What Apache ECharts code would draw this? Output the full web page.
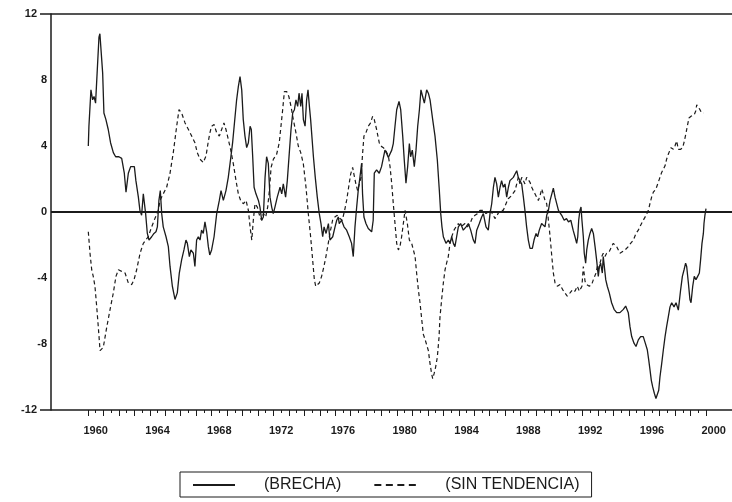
<!DOCTYPE html>
<html><head><meta charset="utf-8">
<script src="https://cdn.jsdelivr.net/npm/echarts@6.0.0/dist/echarts.min.js"></script>
<style>html,body{margin:0;padding:0;background:#fff}#c{width:732px;height:502px}</style>
</head><body><div id="c"></div>
<script>
// ---- data ----
const seriesNames = ['(BRECHA)', '(SIN TENDENCIA)'];
const yTickValues = [-12, -8, -4, 0, 4, 8, 12];
const xLabelYears = [1960, 1964, 1968, 1972, 1976, 1980, 1984, 1988, 1992, 1996, 2000];

const brechaYears = [
1960.02,1960.06,1960.19,1960.30,1960.39,1960.49,1960.60,1960.71,1960.77,1960.86,1960.95,
1961.03,1961.16,1961.31,1961.46,1961.64,1961.79,1962.00,1962.18,1962.35,1962.46,1962.61,1962.76,
1963.00,1963.10,1963.26,1963.36,1963.47,1963.58,1963.64,1963.73,1963.84,1963.95,
1964.12,1964.27,1964.40,1964.49,1964.59,1964.68,1964.77,1964.87,
1965.05,1965.20,1965.31,1965.46,1965.63,1965.78,1965.91,
1966.06,1966.21,1966.34,1966.43,1966.56,1966.66,1966.82,1966.92,
1967.03,1967.14,1967.25,1967.35,1967.46,1967.57,1967.68,1967.79,1967.88,
1968.00,1968.16,1968.33,1968.50,1968.61,1968.76,1968.93,
1969.08,1969.23,1969.36,1969.52,1969.62,1969.73,1969.84,1969.95,
1970.05,1970.16,1970.27,1970.38,1970.49,1970.57,1970.66,1970.75,1970.87,
1971.03,1971.13,1971.24,1971.35,1971.46,1971.56,1971.67,1971.78,1971.89,1971.99,
1972.10,1972.25,1972.43,1972.54,1972.64,1972.79,1972.90,
1973.03,1973.14,1973.25,1973.36,1973.46,1973.57,1973.66,1973.77,1973.85,1973.94,
1974.05,1974.15,1974.24,1974.33,1974.41,1974.59,1974.71,1974.84,1974.97,
1975.08,1975.19,1975.28,1975.41,1975.56,1975.66,1975.84,1975.99,
1976.10,1976.20,1976.26,1976.41,1976.57,1976.74,1976.91,
1977.06,1977.17,1977.28,1977.39,1977.49,1977.60,1977.71,1977.77,1977.86,1977.99,
1978.14,1978.36,1978.46,1978.53,1978.68,1978.85,
1979.00,1979.22,1979.33,1979.44,1979.55,1979.66,1979.76,1979.87,1979.98,
1980.13,1980.24,1980.37,1980.47,1980.58,1980.69,1980.80,1980.88,1980.99,
1981.12,1981.23,1981.34,1981.45,1981.55,1981.66,1981.77,1981.92,
1982.03,1982.14,1982.31,1982.46,1982.61,1982.74,1982.83,1982.91,
1983.00,1983.17,1983.32,1983.43,1983.54,1983.65,1983.75,1983.86,1983.97,
1984.12,1984.29,1984.47,1984.62,1984.77,1984.94,
1985.05,1985.16,1985.33,1985.48,1985.59,1985.76,1985.91,
1986.02,1986.13,1986.24,1986.34,1986.45,1986.56,1986.67,1986.77,1986.88,1986.99,
1987.10,1987.21,1987.31,1987.53,1987.64,1987.75,1987.85,1987.96,
1988.07,1988.18,1988.28,1988.39,1988.50,1988.61,1988.76,1988.87,
1989.00,1989.10,1989.21,1989.36,1989.47,1989.58,1989.69,1989.80,1989.91,
1990.12,1990.23,1990.45,1990.66,1990.82,1990.97,
1991.10,1991.25,1991.40,1991.52,1991.63,1991.70,1991.76,1991.84,1991.91,1991.97,
1992.06,1992.12,1992.21,1992.28,1992.38,1992.49,1992.60,1992.71,1992.82,1992.92,
1993.03,1993.10,1993.18,1993.29,1993.35,1993.42,1993.51,1993.61,1993.74,1993.89,
1994.05,1994.22,1994.43,1994.65,1994.80,1994.97,
1995.08,1995.19,1995.34,1995.47,1995.62,1995.77,1995.94,
1996.07,1996.20,1996.29,1996.38,1996.46,1996.55,1996.66,1996.76,1996.85,1996.94,
1997.02,1997.13,1997.24,1997.35,1997.45,1997.56,1997.67,1997.78,1997.93,
1998.06,1998.21,1998.36,1998.47,1998.58,1998.68,1998.75,1998.86,1998.96,
1999.03,1999.14,1999.24,1999.35,1999.46,1999.57,1999.65,1999.74,1999.83,1999.87,1999.93,2000.00
];
const brechaValues = [
4.0,5.2,7.4,6.8,7.0,6.6,8.6,10.6,10.8,9.6,8.4,
6.0,5.6,5.0,4.2,3.6,3.35,3.35,3.25,2.35,1.2,2.35,2.75,
2.75,1.9,0.9,0.1,-0.2,1.1,1.2,-0.1,-1.3,-1.7,
-1.5,-1.3,-1.2,-0.9,0.7,1.3,-0.1,-0.9,
-1.5,-2.1,-3.3,-4.5,-5.3,-4.9,-3.7,
-2.9,-2.3,-1.7,-1.9,-2.7,-2.3,-2.5,-3.3,
-1.7,-1.5,-1.7,-1.1,-1.3,-0.6,-1.2,-2.1,-2.6,
-2.3,-1.5,-0.1,0.7,1.3,0.7,1.3,
2.1,3.2,4.2,5.8,6.8,7.6,8.2,7.4,
5.6,4.6,3.9,4.2,5.2,5.0,3.35,1.5,1.1,
0.7,0.3,-0.5,-0.3,2.1,3.35,2.95,0.9,0.3,-0.1,
0.3,0.9,1.5,1.1,1.7,0.9,1.9,
3.6,5.0,6.0,6.2,6.8,6.4,7.2,6.4,7.2,5.6,
5.2,6.8,7.4,6.4,5.6,3.35,2.1,0.9,-0.1,
-0.7,-1.5,-0.9,-1.3,-0.7,-1.7,-1.5,-0.9,
-0.5,-0.3,-0.7,-0.5,-0.9,-1.1,-1.5,
-1.9,-2.7,-0.9,0.3,1.3,2.1,2.95,1.1,-0.3,-0.7,
-1.0,-1.2,-0.5,2.35,2.55,2.35,
2.75,3.75,3.55,3.3,3.35,3.75,4.15,5.2,6.2,
6.7,6.2,4.6,3.15,1.75,2.75,4.15,3.35,3.75,
2.75,3.75,5.2,6.2,7.4,7.0,6.6,7.4,
7.2,6.8,5.6,4.6,3.15,1.3,-0.1,-0.9,
-1.5,-1.9,-1.7,-1.9,-1.5,-1.9,-2.1,-1.5,-0.9,
-0.7,-1.1,-0.9,-0.7,-1.1,-1.7,
-1.9,-1.1,-0.7,-0.3,-0.1,-0.9,-1.1,
-0.1,0.5,1.5,2.1,1.7,0.9,1.5,1.9,1.5,1.7,
0.9,1.5,1.9,2.1,2.3,2.5,2.1,1.9,
1.7,0.9,0.1,-0.9,-1.7,-2.2,-2.2,-1.7,
-1.3,-1.5,-1.1,-0.7,-0.8,-0.9,-0.2,0.1,0.7,
1.45,0.9,0.1,-0.2,-0.5,-0.4,
-0.6,-0.5,-1.1,-1.5,-1.9,-1.5,-0.5,0.1,0.3,-0.5,
-1.5,-2.5,-3.1,-2.3,-1.7,-1.3,-1.0,-1.3,-2.1,-2.9,
-3.9,-3.3,-3.1,-3.7,-2.7,-3.3,-4.1,-4.5,-4.9,-5.5,
-5.9,-6.1,-6.1,-5.9,-5.7,-6.1,
-6.95,-7.55,-7.95,-8.15,-7.75,-7.55,-7.55,
-7.95,-8.35,-8.95,-9.6,-10.2,-10.6,-11.0,-11.3,-11.4,-10.8,
-10.0,-9.2,-8.35,-7.55,-6.95,-6.35,-5.75,-5.5,-5.75,
-5.5,-5.95,-4.7,-3.9,-3.5,-3.1,-3.3,-4.3,-5.3,
-5.5,-4.5,-3.9,-4.1,-3.9,-3.7,-2.9,-1.9,-1.3,-0.7,-0.2,0.2
];

const sinTendYears = [
1960.02,1960.13,1960.24,1960.34,1960.45,1960.56,1960.67,1960.78,1960.99,
1961.21,1961.43,1961.64,1961.81,1961.97,1962.18,1962.40,1962.61,1962.83,1962.98,
1963.15,1963.37,1963.58,1963.90,1964.12,1964.33,1964.55,1964.66,1964.87,
1965.09,1965.30,1965.52,1965.74,1965.89,1966.06,1966.28,1966.50,1966.71,1966.92,
1967.07,1967.25,1967.46,1967.64,1967.79,1967.89,1968.00,1968.16,1968.33,1968.50,1968.65,1968.80,1968.93,
1969.08,1969.23,1969.41,1969.58,1969.73,1969.88,1970.05,1970.23,1970.38,1970.49,1970.60,1970.70,1970.81,1970.96,
1971.13,1971.24,1971.35,1971.50,1971.63,1971.74,1971.85,1972.00,1972.21,1972.38,1972.49,1972.60,1972.71,1972.86,
1973.00,1973.14,1973.29,1973.46,1973.61,1973.77,1973.94,1974.11,1974.26,1974.41,1974.54,1974.65,1974.74,1974.84,1974.97,
1975.12,1975.27,1975.40,1975.55,1975.70,1975.83,1975.98,1976.13,1976.31,1976.46,1976.61,1976.74,1976.87,
1977.00,1977.13,1977.21,1977.34,1977.45,1977.56,1977.67,1977.77,1977.86,1977.99,
1978.14,1978.29,1978.42,1978.53,1978.68,1978.85,1978.95,1979.12,1979.29,1979.44,1979.55,1979.66,1979.76,1979.87,1979.98,
1980.09,1980.19,1980.30,1980.41,1980.52,1980.58,1980.67,1980.80,1980.95,
1981.06,1981.17,1981.27,1981.38,1981.49,1981.60,1981.70,1981.81,1981.92,
1982.03,1982.14,1982.24,1982.31,1982.40,1982.50,1982.61,1982.72,1982.78,1982.89,
1983.00,1983.11,1983.21,1983.32,1983.43,1983.54,1983.69,1983.82,1983.97,
1984.12,1984.26,1984.40,1984.55,1984.73,1984.90,1985.05,1985.20,1985.37,1985.59,1985.76,
1986.02,1986.18,1986.34,1986.45,1986.67,1986.88,1987.10,1987.20,1987.42,1987.53,1987.64,1987.75,1987.85,1987.96,
1988.07,1988.18,1988.28,1988.39,1988.61,1988.72,1988.82,1988.93,
1989.04,1989.15,1989.26,1989.37,1989.47,1989.58,1989.69,1989.80,1989.91,
1990.02,1990.12,1990.23,1990.38,1990.55,1990.72,1990.87,1991.02,1991.20,1991.37,1991.52,1991.67,1991.80,1991.89,1991.97,
1992.06,1992.17,1992.28,1992.45,1992.60,1992.71,1992.88,1992.97,1993.03,1993.14,1993.25,1993.35,1993.46,1993.57,1993.74,1993.89,
1994.00,1994.22,1994.43,1994.76,1994.97,1995.12,1995.30,1995.47,1995.62,1995.77,1995.94,
1996.12,1996.27,1996.37,1996.48,1996.59,1996.76,1996.91,1997.02,1997.13,1997.24,1997.35,1997.45,1997.56,1997.73,1997.89,1997.99,
1998.10,1998.21,1998.36,1998.49,1998.60,1998.71,1998.79,1998.90,1999.03,1999.14,1999.24,1999.33,1999.40,1999.50,1999.61,1999.72,1999.83
];
const sinTendValues = [
-1.2,-2.5,-3.5,-3.9,-4.5,-5.7,-7.0,-8.4,-8.2,
-7.0,-5.9,-4.9,-3.9,-3.5,-3.6,-3.7,-4.3,-4.4,-4.1,
-3.5,-2.5,-1.9,-1.5,-0.9,-0.4,0.1,0.7,1.1,
1.5,2.3,3.6,5.2,6.2,6.0,5.4,5.0,4.6,4.2,
3.6,3.2,3.0,3.4,4.3,4.8,5.2,5.3,4.8,4.6,5.0,5.4,5.0,
4.4,3.8,2.9,1.9,1.1,0.7,0.5,0.7,0.1,-0.9,-1.7,-0.5,0.5,0.3,
-0.3,-0.5,-0.1,-0.3,0.3,1.3,2.7,3.2,3.5,4.2,5.2,6.2,7.3,7.3,
7.0,6.4,5.6,4.8,4.0,3.6,2.9,1.5,-0.1,-1.5,-2.9,-4.1,-4.5,-4.5,-4.3,
-3.9,-3.3,-2.7,-1.9,-1.1,-0.5,-0.3,-0.2,-0.4,-0.5,0.1,0.7,1.5,
2.3,2.7,2.3,1.7,1.3,1.3,2.1,3.5,4.6,4.8,
5.2,5.4,5.8,5.6,5.0,4.2,4.0,3.9,3.7,3.4,2.75,1.7,0.5,-0.7,-1.9,
-2.3,-2.1,-1.5,-0.7,0.1,0.2,-0.7,-1.7,-1.9,
-2.3,-2.7,-3.7,-4.7,-5.5,-6.5,-7.4,-7.7,-7.8,
-8.4,-9.2,-9.8,-10.1,-9.8,-9.4,-8.8,-7.6,-6.4,-5.3,
-4.3,-3.5,-3.1,-2.7,-1.9,-1.5,-1.1,-0.9,-0.7,
-0.9,-0.8,-0.7,-0.9,-0.7,-0.3,-0.2,-0.1,0.1,0.1,-0.1,
0.1,-0.1,-0.4,-0.5,0.1,0.1,0.6,0.8,1.0,1.1,1.3,1.7,2.1,1.7,
2.1,1.9,1.7,2.1,1.8,1.5,1.3,1.1,
0.9,0.7,1.0,1.4,1.3,0.7,0.5,-0.5,-1.5,
-2.7,-3.7,-4.3,-4.5,-4.4,-4.7,-4.9,-5.1,-4.9,-4.7,-4.8,-4.5,-4.8,-4.9,-4.5,
-3.3,-4.2,-4.4,-4.5,-4.4,-4.1,-3.7,-3.3,-3.5,-3.1,-2.7,-2.5,-2.7,-2.5,-2.4,-2.1,
-1.9,-2.1,-2.5,-2.3,-2.1,-1.9,-1.7,-1.3,-1.1,-0.8,-0.5,
-0.2,0.1,0.5,0.9,1.2,1.4,1.8,2.1,2.4,2.5,2.8,3.2,3.5,3.9,3.8,4.0,
4.3,3.8,3.8,3.9,4.3,4.8,5.2,5.7,5.8,5.7,5.9,6.1,6.5,6.5,6.2,6.0,6.0
];

// ---- chart ----
const INK = '#1b1b1b';
const FONT = '"Liberation Sans", Arial, Helvetica, sans-serif';
const zip = (xs, ys) => xs.map((x, i) => [x, ys[i]]);
const yMin = yTickValues[0], yMax = yTickValues[yTickValues.length - 1];
const yStep = yTickValues[1] - yTickValues[0];
const firstYear = xLabelYears[0], lastYear = xLabelYears[xLabelYears.length - 1];

// layout: data years map linearly between x = 88 (1960) and x = 706 (2000)
const X0 = 88, X1 = 706, W = 732;
const pxPerYear = (X1 - X0) / (lastYear - firstYear);

const chart = echarts.init(document.getElementById('c'), null, {renderer: 'canvas'});
chart.setOption({
  animation: false,
  backgroundColor: '#fff',
  grid: [
    {left: 51, right: 0, top: 14, bottom: 92},                                   // frame
    {left: X0, right: W - X1, top: 14, bottom: 92},                              // data + ticks
    {left: X0, right: W - (X1 + pxPerYear), top: 14, bottom: 92}                 // year labels (mid-year)
  ],
  xAxis: [
    {gridIndex: 0, type: 'value', min: 0, max: 1, show: false},
    {gridIndex: 1, type: 'value', position: 'bottom', min: firstYear, max: lastYear, interval: 1,
      axisLine: {show: false, onZero: false}, splitLine: {show: false}, axisLabel: {show: false},
      axisTick: {show: true, inside: false, length: 6, lineStyle: {color: INK, width: 1}},
      minorTick: {show: true, splitNumber: 2, length: 3, lineStyle: {color: INK, width: 1}}},
    {gridIndex: 2, type: 'value', position: 'bottom', min: firstYear, max: lastYear + 1, interval: 0.5,
      axisLine: {show: false, onZero: false}, axisTick: {show: false}, splitLine: {show: false},
      axisLabel: {show: true, margin: 15, fontSize: 11, fontWeight: 'bold', color: INK, fontFamily: FONT,
        formatter: v => {
          const y = Math.floor(v + 1e-6);
          return (Math.abs(v - y - 0.5) < 1e-6 && xLabelYears.includes(y)) ? String(y) : '';
        }}}
  ],
  yAxis: [
    // frame: left axis line + outer lines at +-12
    {gridIndex: 0, type: 'value', position: 'left', min: yMin, max: yMax, interval: yMax - yMin,
      axisLine: {show: true, onZero: false, lineStyle: {color: INK, width: 1.5}},
      axisTick: {show: true, length: 11, lineStyle: {color: INK, width: 1.5}},
      axisLabel: {show: false},
      splitLine: {show: true, lineStyle: {color: INK, width: 1.5}}},
    // tick labels
    {gridIndex: 0, type: 'value', position: 'left', offset: 0, min: yMin, max: yMax, interval: yStep,
      axisLine: {show: false, onZero: false}, axisTick: {show: false}, splitLine: {show: false},
      axisLabel: {show: true, margin: 4, fontSize: 11, fontWeight: 'bold', color: INK, fontFamily: FONT,
        formatter: v => (v === yMin || v === yMax) ? '{far|' + v + '}' : String(v),
        rich: {far: {fontSize: 11, fontWeight: 'bold', color: INK, fontFamily: FONT, padding: [0, 10, 0, 0]}}}},
    // zero line
    {gridIndex: 0, type: 'value', position: 'left', min: yMin, max: yMax, interval: (yMax - yMin) / 2,
      axisLine: {show: false, onZero: false}, axisTick: {show: false}, axisLabel: {show: false},
      splitLine: {show: true, lineStyle: {color: ['rgba(0,0,0,0)', INK, 'rgba(0,0,0,0)'], width: 2}}},
    {gridIndex: 1, type: 'value', position: 'left', min: yMin, max: yMax, show: false},
    {gridIndex: 2, type: 'value', position: 'left', min: yMin, max: yMax, show: false}
  ],
  legend: {
    left: 180, top: 472,
    orient: 'horizontal',
    padding: [5, 12, 4, 12],
    borderColor: INK, borderWidth: 1,
    itemWidth: 42, itemHeight: 16, itemGap: 32,
    itemStyle: {opacity: 0},
    lineStyle: {width: 2},
    textStyle: {fontSize: 16, color: INK, fontFamily: FONT, padding: [0, 0, 0, 24]},
    data: [
      {name: seriesNames[0]},
      {name: seriesNames[1], lineStyle: {type: [7, 4.5], width: 2}}
    ]
  },
  series: [
    {name: seriesNames[0], type: 'line', xAxisIndex: 1, yAxisIndex: 3,
      symbol: 'none', showSymbol: false, clip: false,
      lineStyle: {color: INK, width: 1.3, type: 'solid'}, itemStyle: {color: INK},
      data: zip(brechaYears, brechaValues)},
    {name: seriesNames[1], type: 'line', xAxisIndex: 1, yAxisIndex: 3,
      symbol: 'none', showSymbol: false, clip: false,
      lineStyle: {color: INK, width: 1.2, type: [4, 3]}, itemStyle: {color: INK},
      data: zip(sinTendYears, sinTendValues)}
  ]
});
</script>
</body></html>
